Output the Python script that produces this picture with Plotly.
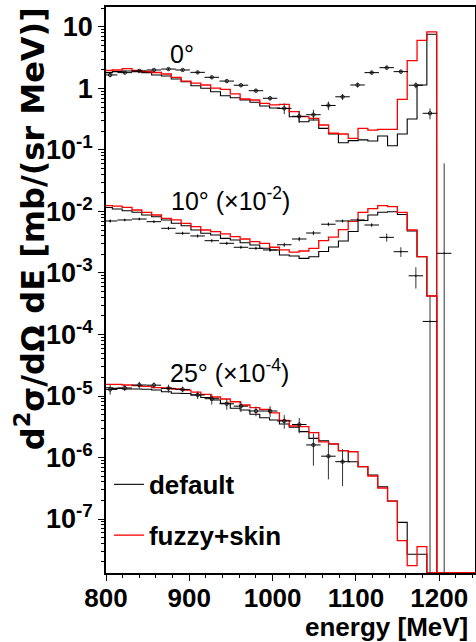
import plotly.graph_objects as go

FONT = "Liberation Sans"

# ---------------- histogram binning (MeV) ----------------
BIN_WIDTH = 11.8
FIRST_EDGE = 795.8
N_BINS = 39          # filled bins + trailing empty bins
Y_LOG_MIN, Y_LOG_MAX = -7.878, 1.325
FLOOR = 10 ** Y_LOG_MIN   # empty bins drawn on the frame bottom (ROOT style)

# ---------------- model histograms (already scaled) ----------------
h0_default = [1.81, 1.88, 1.93, 1.88, 1.81, 1.66, 1.60, 1.43, 1.29, 1.11, 1.01, 0.887,
              0.764, 0.708, 0.650, 0.597, 0.519, 0.482, 0.473, 0.348, 0.288, 0.308,
              0.225, 0.182, 0.131, 0.142, 0.146, 0.140, 0.169, 0.117, 0.182, 0.319,
              1.14, 7.61]
h0_fuzzy = [1.96, 2.00, 2.11, 1.96, 1.89, 1.82, 1.72, 1.52, 1.32, 1.22, 1.14, 1.01,
            0.97, 0.815, 0.675, 0.650, 0.574, 0.540, 0.550, 0.420, 0.348, 0.327,
            0.255, 0.187, 0.182, 0.155, 0.225, 0.211, 0.217, 0.217, 0.667, 2.83,
            6.08, 8.35]
h10_default = [0.01161, 0.01099, 0.01030, 0.00970, 0.00877, 0.00822, 0.00728, 0.00643,
               0.00588, 0.00500, 0.00443, 0.00415, 0.00366, 0.00344, 0.00311, 0.00285,
               0.00252, 0.00237, 0.00196, 0.00189, 0.00173, 0.00184, 0.00224, 0.00265,
               0.00331, 0.00473, 0.00714, 0.00877, 0.00970, 0.00993, 0.00893, 0.00482,
               0.00184, 0.000423]
h10_fuzzy = [0.01242, 0.01227, 0.01169, 0.01057, 0.00970, 0.00877, 0.00775, 0.00728,
             0.00643, 0.00566, 0.00500, 0.00470, 0.00431, 0.00389, 0.00357, 0.00323,
             0.00304, 0.00262, 0.00237, 0.00219, 0.00228, 0.00252, 0.00337, 0.00382,
             0.00508, 0.00693, 0.00964, 0.01111, 0.01242, 0.01197, 0.00964, 0.00500,
             0.00184, 0.000423]
h25_default = [1.36e-5, 1.33e-5, 1.30e-5, 1.30e-5, 1.29e-5, 1.25e-5, 1.17e-5, 1.11e-5,
               1.10e-5, 1.04e-5, 9.46e-6, 8.61e-6, 7.61e-6, 6.31e-6, 5.92e-6, 5.04e-6,
               4.44e-6, 4.07e-6, 3.51e-6, 3.10e-6, 2.63e-6, 2.05e-6, 1.87e-6, 1.66e-6,
               1.29e-6, 8.55e-7, 7.08e-7, 5.19e-7, 3.35e-7, 1.96e-7, 8.83e-8, 2.67e-8,
               2.67e-8, 0]
h25_fuzzy = [1.55e-5, 1.55e-5, 1.51e-5, 1.48e-5, 1.43e-5, 1.37e-5, 1.35e-5, 1.30e-5,
             1.25e-5, 1.16e-5, 1.06e-5, 9.64e-6, 8.93e-6, 8.07e-6, 7.14e-6, 6.45e-6,
             6.08e-6, 5.30e-6, 4.00e-6, 3.25e-6, 3.17e-6, 2.53e-6, 1.79e-6, 1.66e-6,
             1.29e-6, 1.24e-6, 7.08e-7, 5.00e-7, 3.19e-7, 1.96e-7, 4.44e-8, 1.75e-8,
             3.55e-8, 0]

# ---------------- data points ----------------
energy_data = [805, 822.5, 840, 857.5, 875, 892, 910, 927, 945, 962, 980, 997, 1014,
               1032, 1049, 1067, 1084, 1102, 1119, 1137, 1154, 1172, 1189, 1206]
energy_halfwidth = 8.7

d0 = [1.66, 1.81, 1.93, 2.00, 2.07, 2.00, 1.83, 1.52, 1.32, 1.13, 0.921, 0.693, 0.476,
      0.353, 0.375, 0.530, 0.733, 1.14, 1.81, 2.18, 1.88, 1.13, 0.395]
d0_relerr = [0.08, 0.05, 0.05, 0.05, 0.05, 0.05, 0.05, 0.06, 0.06, 0.07, 0.07, 0.08,
             0.20, 0.22, 0.20, 0.16, 0.11, 0.09, 0.07, 0.07, 0.07, 0.11, 0.20]

d10 = [0.00701, 0.00728, 0.00755, 0.00683, 0.00533, 0.00443, 0.00400, 0.00335, 0.00304,
       0.00262, 0.00252, 0.00237, 0.00288, 0.00357, 0.00447, 0.00621, 0.00701, 0.00728,
       0.00603, 0.00380, 0.00222, 0.000900, 0.000163, 0.00209]
d10_relerr = [0.06, 0.05, 0.05, 0.05, 0.06, 0.06, 0.06, 0.06, 0.06, 0.06, 0.06, 0.07,
              0.08, 0.08, 0.08, 0.07, 0.06, 0.06, 0.07, 0.15, 0.18, 0.38, 1.5, 28]

d25 = [1.28e-5, 1.35e-5, 1.51e-5, 1.50e-5, 1.33e-5, 1.28e-5, 1.04e-5, 9.04e-6, 7.47e-6,
       6.83e-6, 5.70e-6, 5.70e-6, 3.92e-6, 3.44e-6, 1.60e-6, 1.05e-6, 8.55e-7]
d25_relerr = [0.18, 0.11, 0.13, 0.11, 0.15, 0.11, 0.14, 0.20, 0.20, 0.20, 0.18, 0.20,
              0.25, 0.28, 0.54, 0.58, 0.60]

# ---------------- labels ----------------
angle_labels = ["0°", "10° (×10<sup>-2</sup>)", "25° (×10<sup>-4</sup>)"]
angle_label_x = [874, 876, 874]
angle_label_logy = [0.56, -1.80, -4.59]

x_ticks = [800, 900, 1000, 1100, 1200]
y_tick_vals = [10, 1, 1e-1, 1e-2, 1e-3, 1e-4, 1e-5, 1e-6, 1e-7]
y_tick_text = ["10", "1", "10<sup>-1</sup>", "10<sup>-2</sup>", "10<sup>-3</sup>",
               "10<sup>-4</sup>", "10<sup>-5</sup>", "10<sup>-6</sup>", "10<sup>-7</sup>"]


def hist_xy(values):
    vals = list(values) + [0] * (N_BINS - len(values))
    ys = [v if v > 0 else FLOOR for v in vals]
    xs = [FIRST_EDGE + BIN_WIDTH * k for k in range(N_BINS + 1)]
    return xs, ys + [ys[-1]]


def joined(hists):
    X, Y = [], []
    for h in hists:
        x, y = hist_xy(h)
        if X:
            X.append(None)
            Y.append(None)
        X += x
        Y += y
    return X, Y


fig = go.Figure()

xd, yd = joined([h0_default, h10_default, h25_default])
fig.add_trace(go.Scatter(x=xd, y=yd, mode="lines", line=dict(color="black", width=1.1, shape="hv"),
                         name="default", legendgroup="a", connectgaps=False))
xf, yf = joined([h0_fuzzy, h10_fuzzy, h25_fuzzy])
fig.add_trace(go.Scatter(x=xf, y=yf, mode="lines", line=dict(color="#ff0000", width=1.3, shape="hv"),
                         name="fuzzy+skin", legendgroup="b", connectgaps=False))

for vals, rel, msize in [(d0, d0_relerr, 3.5), (d10, d10_relerr, 1), (d25, d25_relerr, 3.5)]:
    n = len(vals)
    fig.add_trace(go.Scatter(
        x=energy_data[:n], y=vals, mode="markers", showlegend=False,
        marker=dict(symbol="circle-open", size=msize, color="black", line=dict(width=0.8, color="black")),
        error_x=dict(type="constant", value=energy_halfwidth, color="black", thickness=1, width=0),
        error_y=dict(type="data", array=[v * r for v, r in zip(vals, rel)], color="#333333",
                     thickness=1, width=0),
    ))

for txt, x, ly in zip(angle_labels, angle_label_x, angle_label_logy):
    fig.add_annotation(x=x, y=ly, xref="x", yref="y", text=txt, showarrow=False,
                       xanchor="left", yanchor="middle",
                       font=dict(family=FONT, size=25, color="black"))

fig.add_annotation(x=-0.207, y=1.0035, xref="paper", yref="paper",
                   text="d<sup>2</sup>σ/dΩ dE [mb/(sr MeV)]", textangle=-90, showarrow=False,
                   xanchor="center", yanchor="top",
                   font=dict(family="DejaVu Sans", size=32, color="black", weight="bold"))
fig.add_annotation(x=0.9865, y=-0.0954, xref="paper", yref="paper",
                   text="energy [MeV]", showarrow=False, xanchor="right", yanchor="middle",
                   font=dict(family=FONT, size=26, color="black", weight="bold"))

fig.update_xaxes(range=[800, 1243], tickmode="array", tickvals=x_ticks,
                 ticks="outside", ticklen=6, tickwidth=1, tickcolor="black",
                 ticklabelstandoff=-5,
                 showline=True, linecolor="black", linewidth=1.5, mirror=True,
                 showgrid=False, zeroline=False, automargin=False,
                 tickfont=dict(family=FONT, size=26, color="black", weight="bold"),
                 minor=dict(tickmode="linear", tick0=800, dtick=20, ticks="outside",
                            ticklen=3, tickcolor="black", showgrid=False))

minor_y = [m * 10.0 ** e for e in range(-8, 2) for m in range(2, 10)]
fig.update_yaxes(type="log", range=[Y_LOG_MIN, Y_LOG_MAX], tickmode="array",
                 tickvals=y_tick_vals, ticktext=y_tick_text,
                 ticks="outside", ticklen=6, tickwidth=1, tickcolor="black",
                 showline=True, linecolor="black", linewidth=1.5, mirror=True,
                 showgrid=False, zeroline=False, automargin=False,
                 tickfont=dict(family=FONT, size=27, color="black", weight="bold"),
                 minor=dict(tickmode="array", tickvals=minor_y, ticks="outside",
                            ticklen=3, tickcolor="black", showgrid=False))

fig.update_layout(
    width=476, height=642,
    margin=dict(l=106, r=1, t=7, b=69, autoexpand=False),
    paper_bgcolor="white", plot_bgcolor="white",
    showlegend=True,
    legend=dict(x=0.008, xanchor="left", y=0.198, yanchor="top",
                font=dict(family=FONT, size=26, color="black", weight="bold"),
                bgcolor="rgba(0,0,0,0)", tracegroupgap=14, traceorder="grouped",
                itemwidth=30),
)

fig.write_html("out.html", config={"displayModeBar": False},
               post_script="document.body.style.margin='0';")
